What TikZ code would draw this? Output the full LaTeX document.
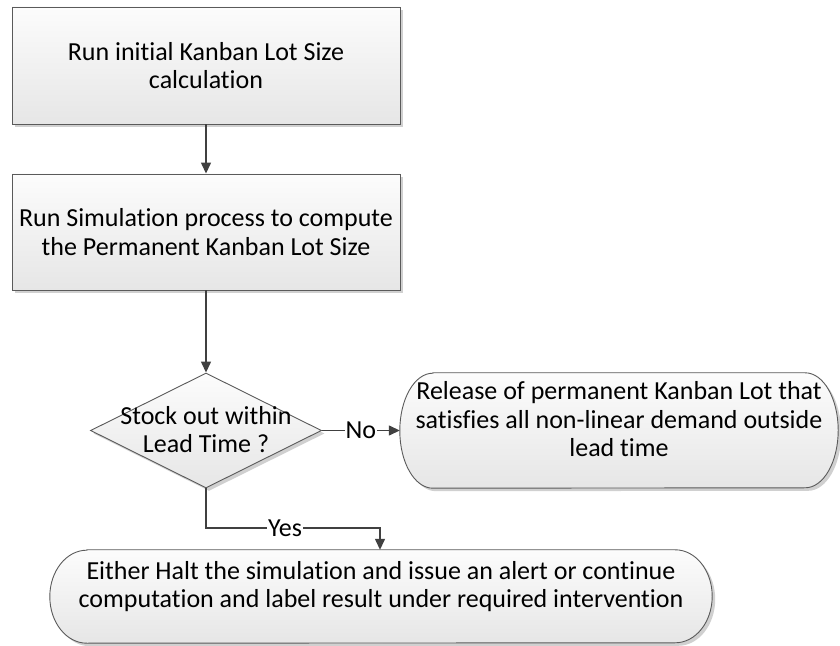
\documentclass[tikz,border=0pt]{standalone}
\usepackage{fontspec}
\setmainfont{Carlito}[RawFeature={-liga,-clig,-calt,-dlig}]
\usetikzlibrary{arrows.meta,shapes.geometric,shadows}

\definecolor{edgegray}{HTML}{5A5A5A}
\definecolor{arrowgray}{HTML}{404040}
\definecolor{filltop}{HTML}{FCFCFC}
\definecolor{fillbottom}{HTML}{E6E6E6}
\definecolor{shadowgray}{HTML}{D0D0D0}

\tikzset{
  flowfill/.style={draw=edgegray, line width=0.9pt, top color=filltop, bottom color=fillbottom,
    drop shadow={shadow xshift=3pt, shadow yshift=-3pt, fill=shadowgray, opacity=1}},
  procbox/.style={flowfill, rectangle, align=center, inner sep=0pt},
  decbox/.style={flowfill, diamond, inner sep=0pt, aspect=2},
  plain/.style={align=center, inner sep=0pt},
  arr/.style={draw=arrowgray, line width=1.4pt, -{Triangle[length=11pt,width=10pt]}},
  lab/.style={fill=white, inner sep=1pt}
}

\begin{document}
\begin{tikzpicture}[x=1pt, y=1pt, font=\fontsize{26}{28.5}\selectfont]
  \useasboundingbox (0,0) rectangle (840,645);

  % process steps
  \node[procbox, minimum width=388pt, minimum height=117pt] (init) at (206,579.5)
    {Run initial Kanban Lot Size\\calculation};
  \node[procbox, minimum width=388pt, minimum height=116pt] (sim) at (206,413)
    {Run Simulation process to compute\\the Permanent Kanban Lot Size};

  % decision
  \node[decbox, minimum width=231pt, minimum height=115pt] (dec) at (206,214.5) {};
  \node[plain] at ([yshift=1pt]dec.center) {Stock out within\\Lead Time ?};

  % terminators: sized placeholders, outlines with elliptical ends
  \node[plain, minimum width=438pt, minimum height=115pt] (rel) at (619,214.5) {};
  \node[plain, minimum width=662pt, minimum height=93pt] (halt) at (381,48.5) {};

  \draw[flowfill] ([xshift=33pt]rel.north west) -- ([xshift=-33pt]rel.north east)
    arc[start angle=90, end angle=-90, x radius=33pt, y radius=57.5pt]
    -- ([xshift=33pt]rel.south west)
    arc[start angle=270, end angle=90, x radius=33pt, y radius=57.5pt] -- cycle;
  \draw[flowfill] ([xshift=37pt]halt.north west) -- ([xshift=-37pt]halt.north east)
    arc[start angle=90, end angle=-90, x radius=37pt, y radius=46.5pt]
    -- ([xshift=37pt]halt.south west)
    arc[start angle=270, end angle=90, x radius=37pt, y radius=46.5pt] -- cycle;
  \node[plain] at ([yshift=11pt]rel.center) {Release of permanent Kanban Lot that\\satisfies all non-linear demand outside\\lead time};
  \node[plain] at ([yshift=10pt]halt.center) {Either Halt the simulation and issue an alert or continue\\computation and label result under required intervention};

  % connectors
  \draw[arr] (init) -- (sim);
  \draw[arr] (sim) -- (dec);
  \draw[arr] (dec.east) -- node[lab] {No} (rel.west);
  \coordinate (yk) at (380,117);
  \draw[arr] (dec.south) |- node[lab, pos=0.727] {Yes} (yk) -- (yk |- halt.north);
\end{tikzpicture}
\end{document}
